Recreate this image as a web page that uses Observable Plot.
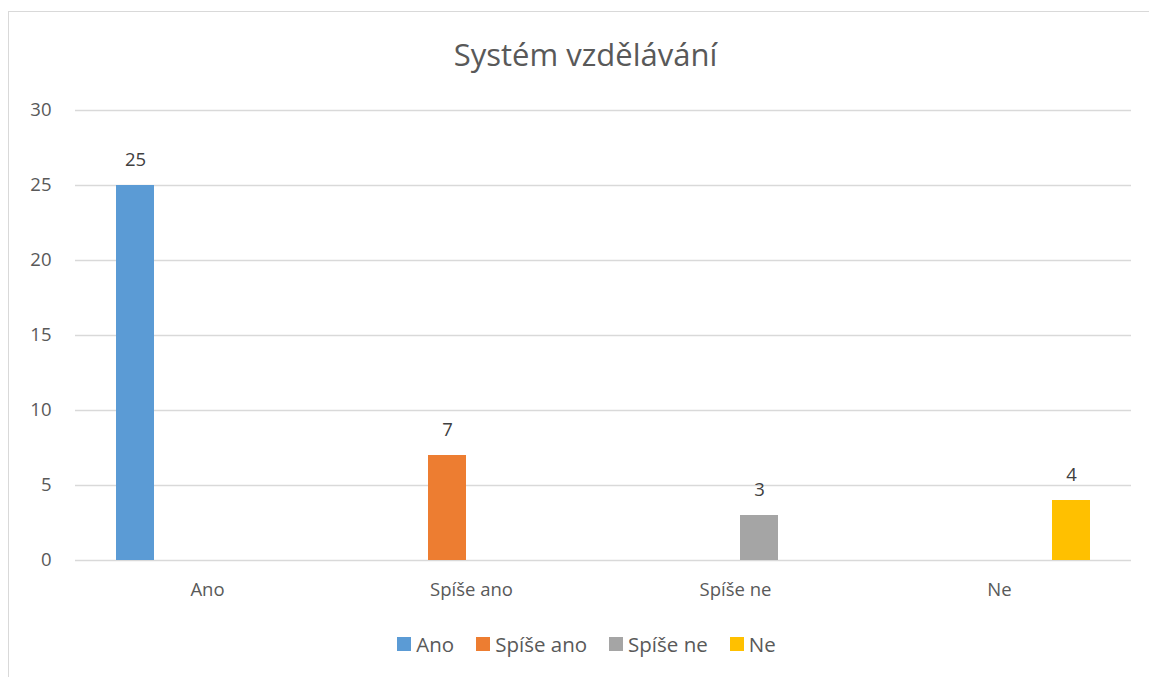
<!DOCTYPE html>
<html><head><meta charset="utf-8">
<script src="https://cdn.jsdelivr.net/npm/d3@7"></script>
<script src="https://cdn.jsdelivr.net/npm/@observablehq/plot@0.6"></script>
<style>
body{margin:0;background:#fff;font-family:"Open Sans",sans-serif;}
#wrap{position:relative;width:1149px;height:677px;overflow:hidden;background:#fff;}
#frame{position:absolute;left:8px;top:11px;width:1150px;height:680px;border-left:1.5px solid #d9d9d9;border-top:1.5px solid #d9d9d9;box-sizing:border-box;}
#title{position:absolute;top:33px;left:22px;width:1127px;text-align:center;font-size:31px;color:#595959;line-height:42px;}
#chart{position:absolute;top:80px;left:0;}
#legend{position:absolute;top:630px;left:24px;width:1125px;display:flex;justify-content:center;align-items:center;font-size:20.5px;color:#595959;line-height:28px;}
#legend .it{display:flex;align-items:center;margin:0 11px;}
#legend .sw{width:14px;height:14px;margin-right:5px;}
</style>
</head><body>
<div id="wrap">
<div id="frame"></div>
<div id="title">Systém vzdělávání</div>
<div id="chart"></div>
<div id="legend"></div>
</div>
<script>
const categories = ["Ano", "Spíše ano", "Spíše ne", "Ne"];
const series = ["Ano", "Spíše ano", "Spíše ne", "Ne"];
const values = [25, 7, 3, 4];
const colors = ["#5B9BD5", "#ED7D31", "#A5A5A5", "#FFC000"];
const yTicks = [0, 5, 10, 15, 20, 25, 30];

const rows = categories.map((c, i) => ({category: c, series: series[i], value: values[i]}));

const chart = Plot.plot({
  width: 1149,
  height: 540,
  marginTop: 30,
  marginBottom: 60,
  marginLeft: 73,
  marginRight: 17,
  style: {fontFamily: "'Open Sans', sans-serif", fontSize: "18.5px", color: "#595959", background: "transparent"},
  fx: {domain: categories, padding: 0, label: null, axis: "bottom", tickSize: 0, tickPadding: 22},
  x: {domain: series, paddingInner: 0.205, paddingOuter: 0.80, axis: null},
  y: {domain: [0, 30], ticks: yTicks, label: null, tickSize: 0, tickPadding: 24},
  color: {domain: series, range: colors},
  marks: [
    Plot.gridY(yTicks, {stroke: "#d9d9d9", strokeOpacity: 1, strokeWidth: 1.5}),
    Plot.barY(rows, {fx: "category", x: "series", y: "value", fill: "series"}),
    Plot.text(rows, {fx: "category", x: "series", y: "value", text: d => String(d.value), dy: -25, fill: "#404040", fontSize: 18.5})
  ]
});
document.getElementById("chart").appendChild(chart);

const legend = document.getElementById("legend");
series.forEach((s, i) => {
  const it = document.createElement("div");
  it.className = "it";
  const sw = document.createElement("div");
  sw.className = "sw";
  sw.style.background = colors[i];
  const tx = document.createElement("span");
  tx.textContent = s;
  it.appendChild(sw); it.appendChild(tx);
  legend.appendChild(it);
});
</script>
</body></html>
